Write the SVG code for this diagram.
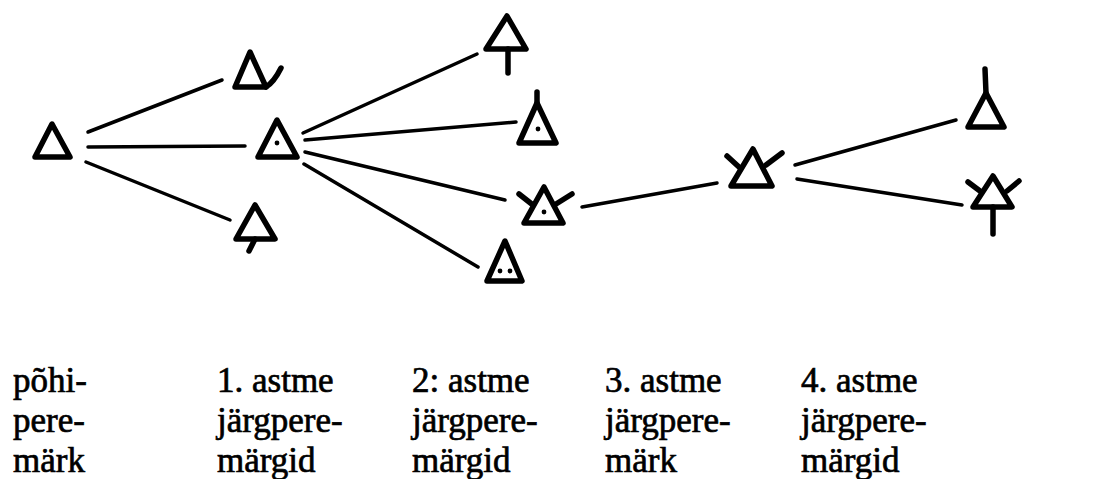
<svg xmlns="http://www.w3.org/2000/svg" width="1093" height="479" viewBox="0 0 1093 479">
<style>
.s{fill:none;stroke:#000;stroke-width:5.5;stroke-linejoin:round;stroke-linecap:round}
.c{fill:none;stroke:#000;stroke-width:3.5;stroke-linecap:round}
.d{fill:#000}
text{font-family:"Liberation Serif","DejaVu Serif",serif;font-size:35px;fill:#000;stroke:#000;stroke-width:0.7}
</style>
<rect width="1093" height="479" fill="#fff"/>
<g id="connectors">
<line class="c" x1="88" y1="132" x2="222" y2="80"/>
<line class="c" x1="88" y1="147" x2="245" y2="146"/>
<line class="c" x1="86" y1="162" x2="230" y2="220"/>
<line class="c" x1="303" y1="133" x2="477" y2="54"/>
<line class="c" x1="305" y1="140" x2="516" y2="122"/>
<line class="c" x1="305" y1="152" x2="505" y2="200"/>
<line class="c" x1="304" y1="164" x2="478" y2="267"/>
<line class="c" x1="582" y1="207" x2="717" y2="183"/>
<line class="c" x1="795" y1="165" x2="956" y2="120"/>
<line class="c" x1="797" y1="179" x2="962" y2="205"/>
</g>
<g id="n0">
<path class="s" d="M52,124 L70,157 L35,157 Z"/>
</g>
<g id="n1a">
<path class="s" d="M250,52 L266,87 L235,87 Z"/>
<path class="s" d="M266,87 Q274,82 281,68"/>
</g>
<g id="n1b">
<path class="s" d="M277,120 L297,157 L258,157 Z"/>
<circle class="d" cx="277" cy="143" r="2.4"/>
</g>
<g id="n1c">
<path class="s" d="M255,205 L275,239 L236,239 Z"/>
<path class="s" d="M255,239 L249,251"/>
</g>
<g id="n2a">
<path class="s" d="M507,16 L526,49 L486,49 Z"/>
<path class="s" d="M508,49 L508,73"/>
</g>
<g id="n2b">
<path class="s" d="M537,103 L556,143 L519,143 Z"/>
<path class="s" d="M537,103 L537,92"/>
<circle class="d" cx="538" cy="129" r="2.4"/>
</g>
<g id="n2c">
<path class="s" d="M544,187 L563,223 L524,223 Z"/>
<path class="s" d="M519,194 L533,205"/>
<path class="s" d="M556,204 L572,194"/>
<circle class="d" cx="544" cy="212" r="2.4"/>
</g>
<g id="n2d">
<path class="s" d="M505,241 L522,281 L487,281 Z"/>
<circle class="d" cx="500" cy="271" r="2.4"/>
<circle class="d" cx="510" cy="271" r="2.4"/>
</g>
<g id="n3">
<path class="s" d="M753,149 L772,186 L731,186 Z"/>
<path class="s" d="M727,156 L739,167"/>
<path class="s" d="M766,165 L782,153"/>
</g>
<g id="n4a">
<path class="s" d="M986,93 L1004,127 L968,127 Z"/>
<path class="s" d="M986,93 L985,69"/>
</g>
<g id="n4b">
<path class="s" d="M993,176 L1012,207 L973,207 Z"/>
<path class="s" d="M968,182 L980,191"/>
<path class="s" d="M1007,191 L1019,181"/>
<path class="s" d="M993,207 L993,234"/>
</g>
<g id="labels">
<text x="13" y="392">põhi-</text>
<text x="13" y="432">pere-</text>
<text x="13" y="472">märk</text>
<text x="217" y="392">1. astme</text>
<text x="217" y="432">järgpere-</text>
<text x="217" y="472">märgid</text>
<text x="412" y="392">2: astme</text>
<text x="412" y="432">järgpere-</text>
<text x="412" y="472">märgid</text>
<text x="605" y="392">3. astme</text>
<text x="605" y="432">järgpere-</text>
<text x="605" y="472">märk</text>
<text x="801" y="392">4. astme</text>
<text x="801" y="432">järgpere-</text>
<text x="801" y="472">märgid</text>
</g>
</svg>
